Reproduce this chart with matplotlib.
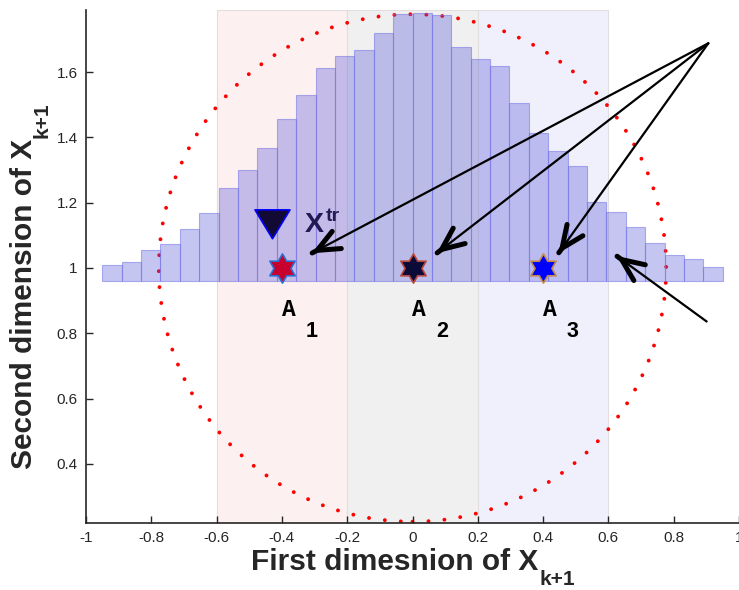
import numpy as np
import matplotlib
matplotlib.use("Agg")
import matplotlib.pyplot as plt
from matplotlib.path import Path
from matplotlib.patches import Circle

# ----- data -----
bar_tops = [1.009, 1.018, 1.055, 1.073, 1.119, 1.168, 1.245, 1.300,
            1.368, 1.456, 1.530, 1.613, 1.648, 1.668, 1.720, 1.778,
            1.781, 1.775, 1.677, 1.640, 1.619, 1.505, 1.413, 1.358,
            1.312, 1.202, 1.172, 1.126, 1.077, 1.040, 1.028, 1.003]
bar_base = 0.96
bin_lo, bin_hi = -0.95, 0.95

region_edges = [-0.6, -0.2, 0.2, 0.6]
region_colors = ["#fdf0f0", "#f0f0f0", "#f0f0fc"]

anchor_x = [-0.4, 0.0, 0.4]
anchor_y = [1.0, 1.0, 1.0]
anchor_names = ["1", "2", "3"]
anchor_face = ["#c8002d", "#0b0b3a", "#0000ff"]
anchor_edge = ["#2a6fd0", "#b8473c", "#c08a4a"]

xtr_x, xtr_y = -0.43, 1.15

circle_center = (0.0, 1.0)
circle_radius = 0.777

arrow_from = [(0.906, 1.688), (0.906, 1.688), (0.906, 1.688), (0.901, 0.836)]
arrow_to = [(-0.309, 1.045), (0.074, 1.045), (0.447, 1.045), (0.625, 1.037)]

xticks = [-1, -0.8, -0.6, -0.4, -0.2, 0, 0.2, 0.4, 0.6, 0.8, 1]
yticks = [0.4, 0.6, 0.8, 1, 1.2, 1.4, 1.6]
xlim = (-1, 1)
ylim = (0.219, 1.790)

# ----- style -----
W, H = 739, 590
INK = "#262626"
plt.rcParams["font.family"] = ["Liberation Sans", "DejaVu Sans"]
plt.rcParams["axes.unicode_minus"] = False


def fig_px(x, y):
    return x / W, 1 - y / H


# marker shapes (MATLAB-like hexagram / downward triangle)
ang_out = np.deg2rad(np.arange(90, 450, 60))
ang_in = ang_out + np.deg2rad(30)
r_in = 1 / np.sqrt(3)
hex_verts = []
for a, b in zip(ang_out, ang_in):
    hex_verts.append((np.cos(a), np.sin(a)))
    hex_verts.append((r_in * np.cos(b), r_in * np.sin(b)))
hex_verts.append(hex_verts[0])
hexagram = Path(hex_verts, closed=True)
tri_down = Path([(-1, 0.55), (1, 0.55), (0, -1.1), (-1, 0.55)], closed=True)

fig = plt.figure(figsize=(W / 100, H / 100), dpi=100)
ax = fig.add_axes([86 / W, 67 / H, 653 / W, 513 / H])

# shaded regions
for lo, hi, c in zip(region_edges[:-1], region_edges[1:], region_colors):
    ax.axvspan(lo, hi, facecolor=c, edgecolor="#e2dede", lw=0.8, zorder=0)

# dotted circle
circ = Circle(circle_center, circle_radius, fill=False, edgecolor="#ff0000",
              lw=2.8, linestyle=(0, (0.01, 4.1)), capstyle="round", zorder=1)
ax.add_patch(circ)

# histogram-like bars
edges = np.linspace(bin_lo, bin_hi, len(bar_tops) + 1)
width = edges[1] - edges[0]
heights = np.array(bar_tops) - bar_base
ax.bar(edges[:-1], heights, width=width, bottom=bar_base, align="edge",
       facecolor=(0.3, 0.3, 0.85, 0.32), edgecolor=(0.45, 0.45, 0.9, 0.55),
       linewidth=0.8, zorder=2)

# markers
ax.plot([xtr_x], [xtr_y], marker=tri_down, markersize=27.7, linestyle="none",
        markerfacecolor="#120a35", markeredgecolor="#0000ff",
        markeredgewidth=1.2, zorder=4)
for x, y, fc, ec in zip(anchor_x, anchor_y, anchor_face, anchor_edge):
    ax.plot([x], [y], marker=hexagram, markersize=21, linestyle="none",
            markerfacecolor=fc, markeredgecolor=ec, markeredgewidth=1.2,
            zorder=4)

# X^tr label
xt = ax.text(xtr_x + 0.101, xtr_y - 0.04, "X", fontsize=20.5, fontweight="bold",
             color="#221a55", ha="left", va="baseline", zorder=5)
ax.annotate("tr", xy=(1, 0), xycoords=xt, xytext=(1, 12),
            textcoords="offset points", fontsize=14, fontweight="bold",
            color="#221a55", ha="left", va="baseline", zorder=5)

# A_i labels
for x, name in zip(anchor_x, anchor_names):
    ax.text(x, 0.853, "A", family="Liberation Mono", fontweight="bold",
            fontsize=16.5, color="black", ha="left", va="baseline", zorder=5)
    ax.text(x + 0.072, 0.789, name, fontweight="bold", fontsize=15.5,
            color="black", ha="left", va="baseline", zorder=5)

# arrows: thin shaft + thick open head
for (x0, y0), (x1, y1) in zip(arrow_from, arrow_to):
    ax.annotate("", xy=(x1, y1), xytext=(x0, y0),
                arrowprops=dict(arrowstyle="-", lw=1.6, color="black",
                                shrinkA=0, shrinkB=0), zorder=6)
    d = np.hypot(x0 - x1, y0 - y1)
    hx, hy = x1 + (x0 - x1) / d * 0.002, y1 + (y0 - y1) / d * 0.002
    ax.annotate("", xy=(x1, y1), xytext=(hx, hy),
                arrowprops=dict(arrowstyle="->,head_length=1.6,head_width=0.7",
                                lw=3.6, color="black", shrinkA=0, shrinkB=0,
                                capstyle="round", joinstyle="round"), zorder=6)

# axes cosmetics
ax.set_xlim(*xlim)
ax.set_ylim(*ylim)
ax.set_xticks(xticks)
ax.set_yticks(yticks)
ax.set_xticklabels([f"{v:g}" for v in xticks])
ax.set_yticklabels([f"{v:g}" for v in yticks])
ax.tick_params(direction="in", length=5, width=1, colors=INK, labelsize=11,
               pad=6)
for s in ("top", "right"):
    ax.spines[s].set_visible(False)
for s in ("left", "bottom"):
    ax.spines[s].set_color(INK)
    ax.spines[s].set_linewidth(1.2)

# axis labels with big MATLAB-style subscripts
xl = fig.text(*fig_px(394.5, 570), "First dimesnion of X", fontsize=21.5,
              fontweight="bold", color=INK, ha="center", va="baseline")
ax.annotate("k+1", xy=(1, 0), xycoords=xl, xytext=(0.7, -6.5),
            textcoords="offset points", fontsize=15, fontweight="bold",
            color=INK, ha="left", va="baseline", annotation_clip=False)

yl = fig.text(*fig_px(32, 304), "Second dimension of X", fontsize=21.5,
              fontweight="bold", color=INK, rotation=90,
              rotation_mode="anchor", ha="center", va="baseline")
ax.annotate("k+1", xy=(1, 1), xycoords=yl, xytext=(6.5, 0.7),
            textcoords="offset points", fontsize=15, fontweight="bold",
            color=INK, rotation=90, rotation_mode="anchor", ha="left",
            va="baseline", annotation_clip=False)

fig.savefig("out.png", dpi=100)
